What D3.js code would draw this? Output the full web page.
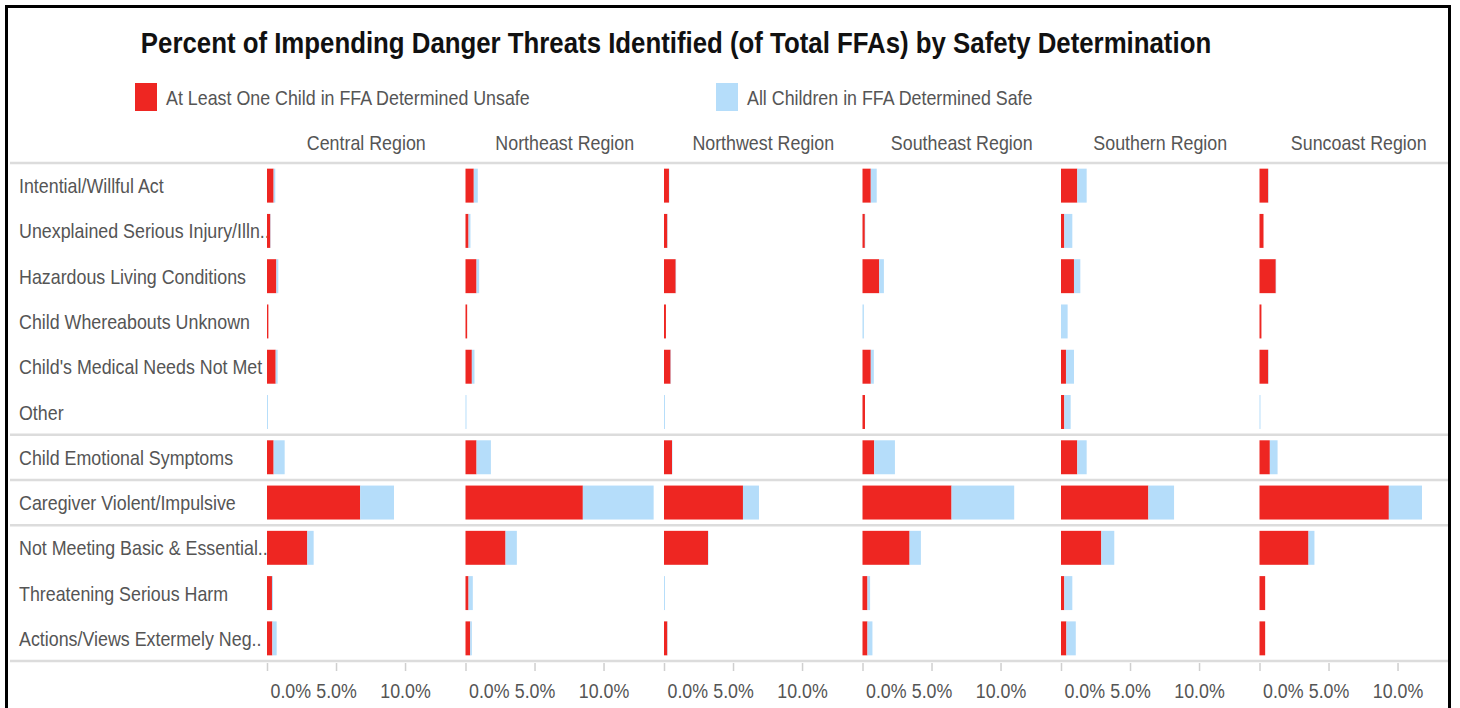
<!DOCTYPE html>
<html>
<head>
<meta charset="utf-8">
<script src="https://cdn.jsdelivr.net/npm/d3@7"></script>
<style>
  html, body { margin: 0; padding: 0; background: #fff; }
  svg { display: block; }
  .narrow { font-family: "Liberation Sans", Arial, sans-serif; }
</style>
</head>
<body>
<svg id="chart" width="1460" height="708"></svg>
<script>
// ---------- DATA ----------
const title = "Percent of Impending Danger Threats Identified (of Total FFAs) by Safety Determination";
const seriesNames = ["At Least One Child in FFA Determined Unsafe", "All Children in FFA Determined Safe"];
const regions = ["Central Region", "Northeast Region", "Northwest Region", "Southeast Region", "Southern Region", "Suncoast Region"];
const threats = [
  "Intential/Willful Act",
  "Unexplained Serious Injury/Illn..",
  "Hazardous Living Conditions",
  "Child Whereabouts Unknown",
  "Child's Medical Needs Not Met",
  "Other",
  "Child Emotional Symptoms",
  "Caregiver Violent/Impulsive",
  "Not Meeting Basic & Essential..",
  "Threatening Serious Harm",
  "Actions/Views Extermely Neg.."
];
// groups separated by a line after these threat rows
const groupEnds = ["Other", "Child Emotional Symptoms", "Caregiver Violent/Impulsive"];
// percent values, rows = threats, per region
const unsafeValues = {
  "Central Region":   [0.48, 0.24, 0.68, 0.10, 0.63, 0.00, 0.48, 6.75, 2.92, 0.36, 0.39],
  "Northeast Region": [0.60, 0.22, 0.80, 0.12, 0.46, 0.00, 0.80, 8.50, 2.90, 0.22, 0.34],
  "Northwest Region": [0.36, 0.24, 0.85, 0.14, 0.48, 0.00, 0.58, 5.72, 3.19, 0.00, 0.24],
  "Southeast Region": [0.60, 0.17, 1.21, 0.00, 0.60, 0.18, 0.85, 6.45, 3.41, 0.36, 0.36],
  "Southern Region":  [1.18, 0.24, 0.94, 0.00, 0.36, 0.24, 1.18, 6.33, 2.92, 0.24, 0.39],
  "Suncoast Region":  [0.63, 0.29, 1.18, 0.14, 0.63, 0.00, 0.75, 9.37, 3.55, 0.41, 0.41]
};
const safeValues = {
  "Central Region":   [0.12, 0.03, 0.14, 0.00, 0.14, 0.07, 0.80, 2.45, 0.46, 0.07, 0.31],
  "Northeast Region": [0.29, 0.14, 0.19, 0.00, 0.19, 0.07, 1.04, 5.13, 0.82, 0.31, 0.12],
  "Northwest Region": [0.03, 0.03, 0.03, 0.00, 0.03, 0.07, 0.03, 1.16, 0.03, 0.07, 0.03],
  "Southeast Region": [0.43, 0.03, 0.34, 0.10, 0.22, 0.00, 1.50, 4.54, 0.82, 0.19, 0.36],
  "Southern Region":  [0.68, 0.58, 0.46, 0.48, 0.58, 0.46, 0.68, 1.86, 0.94, 0.58, 0.68],
  "Suncoast Region":  [0.03, 0.00, 0.03, 0.00, 0.03, 0.07, 0.56, 2.40, 0.43, 0.00, 0.00]
};
const tickValues = [0, 5, 10];

// ---------- LAYOUT ----------
const svg = d3.select("#chart");
const gridTop = 163, gridBottom = 661;
const labelX = 19;
const colors = { unsafe: "#ee2622", safe: "#b5ddfa" };
const textGrey = "#555555";
const SX = 0.85;        // horizontal condensing for body text
const SX_TITLE = 0.875;
const SX_TICK = 0.89;

// condense text horizontally around its anchor point
function squeeze(sel, s) {
  sel.each(function () {
    const t = d3.select(this);
    const x = +t.attr("x") || 0, yy = +t.attr("y") || 0;
    t.attr("x", 0).attr("y", 0).attr("transform", `translate(${x},${yy}) scale(${s},1)`);
  });
}

const y = d3.scaleBand().domain(threats).range([gridTop, gridBottom]).paddingInner(0.25).paddingOuter(0.125);
const panel = d3.scaleBand().domain(regions).range([267, 1458]).padding(0);
const x = d3.scaleLinear().domain([0, 14.38]).range([0, panel.bandwidth()]);

// Title
svg.append("text")
  .attr("class", "narrow")
  .attr("x", 676).attr("y", 53)
  .attr("text-anchor", "middle")
  .attr("font-size", 29.5).attr("font-weight", "bold")
  .attr("fill", "#111")
  .text(title)
  .call(squeeze, SX_TITLE);

// Legend
const legendPos = [{x: 135, key: "unsafe"}, {x: 716, key: "safe"}];
legendPos.forEach((lp, i) => {
  svg.append("rect").attr("x", lp.x).attr("y", 83).attr("width", 22).attr("height", 28).attr("fill", colors[lp.key]);
  svg.append("text").attr("class", "narrow")
    .attr("x", lp.x + 31).attr("y", 104.5)
    .attr("font-size", 21).attr("fill", textGrey)
    .text(seriesNames[i])
    .call(squeeze, SX);
});

// Region headers
svg.selectAll("text.hdr").data(regions).enter().append("text")
  .attr("class", "hdr narrow")
  .attr("x", d => panel(d) + panel.bandwidth() / 2)
  .attr("y", 149.5)
  .attr("text-anchor", "middle")
  .attr("font-size", 21).attr("fill", textGrey)
  .text(d => d)
  .call(squeeze, SX);

// Separator lines
const lineYs = [gridTop, gridBottom].concat(groupEnds.map(t => gridTop + y.step() * (threats.indexOf(t) + 1)));
svg.selectAll("line.sep").data(lineYs).enter().append("line")
  .attr("class", "sep")
  .attr("x1", 10).attr("x2", 1448)
  .attr("y1", d => d).attr("y2", d => d)
  .attr("stroke", "#dcdcdc").attr("stroke-width", 2.5);

// Row labels
svg.selectAll("text.rowlab").data(threats).enter().append("text")
  .attr("class", "rowlab narrow")
  .attr("x", labelX)
  .attr("y", d => y(d) + y.bandwidth() / 2 + 7.5)
  .attr("font-size", 21).attr("fill", textGrey)
  .text(d => d)
  .call(squeeze, SX);

// Panels
regions.forEach(r => {
  const g = svg.append("g").attr("transform", `translate(${panel(r)},0)`);
  const rows = threats.map((t, i) => ({ t, u: unsafeValues[r][i], s: safeValues[r][i] }));
  g.selectAll("rect.u").data(rows).enter().append("rect")
    .attr("x", x(0)).attr("y", d => y(d.t))
    .attr("width", d => x(d.u) - x(0)).attr("height", y.bandwidth())
    .attr("fill", colors.unsafe);
  g.selectAll("rect.s").data(rows).enter().append("rect")
    .attr("x", d => x(d.u)).attr("y", d => y(d.t))
    .attr("width", d => x(d.u + d.s) - x(d.u)).attr("height", y.bandwidth())
    .attr("fill", colors.safe);

  const axis = d3.axisBottom(x).tickValues(tickValues).tickSize(8).tickSizeOuter(0)
    .tickFormat(d => d.toFixed(1) + "%");
  const ag = g.append("g").attr("transform", `translate(0,${gridBottom + 2})`).call(axis);
  ag.attr("font-family", null).attr("font-size", null);
  ag.select(".domain").remove();
  ag.selectAll(".tick line").attr("stroke", "#cfcfcf").attr("stroke-width", 1.5);
  const tt = ag.selectAll(".tick text")
    .attr("class", "narrow")
    .attr("font-size", 20).attr("fill", textGrey)
    .attr("dy", "0.71em")
    .attr("y", 21);
  tt.filter(d => d === 0).attr("text-anchor", "start").attr("x", 3);
  tt.call(squeeze, SX_TICK);
});

// Frame
svg.append("rect").attr("x", 6.5).attr("y", 6.5).attr("width", 1443).attr("height", 760)
  .attr("fill", "none").attr("stroke", "#000").attr("stroke-width", 3);
</script>
</body>
</html>
